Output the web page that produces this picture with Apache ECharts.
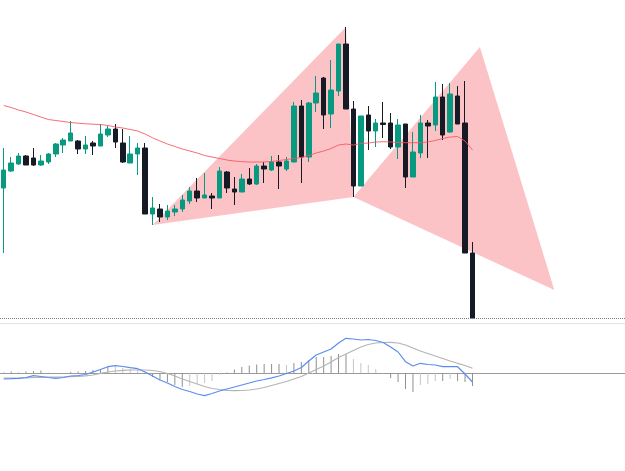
<!DOCTYPE html>
<html>
<head>
<meta charset="utf-8">
<script src="https://cdn.jsdelivr.net/npm/echarts@6/dist/echarts.min.js"></script>
<style>
  html, body { margin: 0; padding: 0; background: #fff; }
  #chart { width: 625px; height: 471px; }
</style>
</head>
<body>
<div id="chart"></div>
<script>
// candles: [open, close, low, high]
const candles = [
  [135, 153, 70, 175], [152, 160, 151, 166], [159, 167, 158, 170], [167, 158, 158, 168],
  [165, 158, 157, 175], [158, 162, 157, 168], [161, 169, 159, 170], [169, 179, 166, 180],
  [178, 183, 170, 185], [182, 190, 182, 202], [182, 174, 169, 183], [174, 178, 169, 187],
  [180, 177, 168, 182], [177, 189, 177, 199], [188, 194, 186, 197], [194, 181, 175, 199],
  [180, 161, 160, 194], [160, 169, 160, 187], [169, 175, 148, 180], [175, 109, 109, 180],
  [109, 115, 98, 126], [114, 106, 101, 119], [106, 112, 103, 118], [111, 114, 107, 118],
  [114, 123, 111, 128], [122, 132, 119, 136], [132, 125, 121, 145], [125, 128, 125, 150],
  [127, 125, 114, 130], [125, 152, 125, 156], [151, 135, 130, 152], [134, 131, 118, 146],
  [131, 144, 131, 149], [144, 139, 138, 155], [139, 157, 138, 159], [157, 154, 140, 161],
  [153, 161, 152, 167], [161, 157, 134, 168], [154, 162, 152, 166], [161, 217, 161, 221],
  [217, 166, 140, 223], [166, 220, 161, 221], [220, 230, 211, 247], [245, 208, 194, 246],
  [209, 233, 195, 263], [232, 279, 227, 279], [279, 214, 214, 296], [214, 137, 126, 222],
  [137, 207, 137, 207], [208, 192, 173, 217], [192, 200, 176, 204], [200, 198.5, 185, 221],
  [200, 176, 174, 210], [176, 198, 164, 204], [199, 146, 135, 199], [146, 171, 146, 191],
  [170, 200, 165, 208], [200, 197, 165, 203], [198, 226, 192, 241], [226, 188, 183, 239],
  [191, 229, 190, 240], [227, 199, 199, 237], [200, 70, 70, 242], [70, 5, 5, 81]
];

const ma = [
  217.5, 215.5, 213, 211, 208.5, 206, 203.5, 202.5, 201.5, 200.5,
  199.8, 199.2, 198.8, 198.5, 197.5, 196, 195, 193.5, 192, 189,
  185.2, 182, 179, 176.5, 174, 172, 170, 167.5, 166, 164.5,
  163, 162, 161.3, 161, 161, 161, 161.5, 162.5, 163.5, 164.5,
  165.5, 167.5, 170, 172, 174.5, 178, 179, 178, 179.5, 180,
  181, 181.3, 181, 180.5, 180.3, 180.3, 180.3, 181, 182.5, 184.5,
  186, 186.5, 182, 173
];

const macd = [
  -6, -5.7, -5.3, -4.5, -2.7, -3.5, -4.5, -5.3, -4.5, -3,
  -2.5, -1.5, 1, 3.5, 6.3, 7.3, 6.5, 5.3, 4.3, 1,
  -3, -7, -10, -13.5, -16.5, -18.5, -21, -22.7, -20.5, -18,
  -16, -14, -12, -10, -8, -6.5, -4.8, -3, -0.5, 2,
  5.5, 12, 18, 21, 24, 30, 34.7, 34, 33, 33.5,
  32.5, 30.5, 26, 21, 11.3, 7, 9.7, 8.5, 8, 6.3,
  6.3, 6.3, -1, -9
];

const signal = [
  -5, -5, -5, -4.8, -4.5, -4.3, -4.2, -4.1, -4, -3.7,
  -3.3, -2.8, -2, -0.3, 1, 2, 2.7, 3, 3, 3,
  2.5, 1.5, -0.5, -3, -6, -8.5, -11, -13.5, -15.5, -16.5,
  -17.3, -17.7, -17.5, -17, -16, -14.5, -12.5, -10.5, -8.5, -6,
  -3.5, 0, 3.5, 7, 11, 15.5, 19, 22.5, 26, 28.5,
  30, 30.5, 30.7, 30, 28, 25, 22, 19.5, 17, 14.5,
  12, 9.7, 7.5, 4.7
];

const hist = [
  0.5, 1.5, 1, 1.5, 2, 2.5, 0.5, 0, 0, 1,
  1.5, 2, 3, 4, 6.5, 6, 5, 4, 3, 1,
  -4, -7, -9, -12, -14, -13, -11, -10, -8, -2,
  1, 3.5, 6, 7.5, 8.5, 9, 9, 9, 8, 10,
  11, 13, 16, 16, 17, 19, 19, 14, 10, 8,
  4, -0.5, -5, -9, -16, -19, -12, -11, -8, -8,
  -6, -8, -9, -13
];

// harmonic pattern points X, A, B, C, D (bar index, price)
const patternIdx = [20, 46, 47, 64, 74];
const patternVal = [98, 296, 126, 276, 33];

const lastClose = 5;
const barCount = 84;

const categories = [];
for (let i = 0; i < barCount; i++) categories.push('bar ' + (i + 1));

const triangles = [
  [patternIdx[0], patternVal[0], patternIdx[1], patternVal[1], patternIdx[2], patternVal[2]],
  [patternIdx[2], patternVal[2], patternIdx[3], patternVal[3], patternIdx[4], patternVal[4]]
];

const chart = echarts.init(document.getElementById('chart'), null, { renderer: 'canvas' });

const option = {
  animation: false,
  backgroundColor: '#ffffff',
  grid: [
    { left: -1.2, right: 0, top: 0, height: 323 },
    { left: -1.2, right: 0, top: 323, height: 100 }
  ],
  xAxis: [
    {
      type: 'category', gridIndex: 0, data: categories, boundaryGap: true,
      axisLine: { show: true, lineStyle: { color: '#e0e3eb', width: 1 } },
      axisTick: { show: false }, axisLabel: { show: false }, splitLine: { show: false }
    },
    {
      type: 'category', gridIndex: 1, data: categories, boundaryGap: true,
      axisLine: { show: true, onZero: true, lineStyle: { color: '#9a9a9a', width: 1 } },
      axisTick: { show: false }, axisLabel: { show: false }, splitLine: { show: false }
    }
  ],
  yAxis: [
    { type: 'value', gridIndex: 0, min: 0, max: 323, show: false },
    { type: 'value', gridIndex: 1, min: -50, max: 50, show: false }
  ],
  series: [
    {
      type: 'custom',
      xAxisIndex: 0, yAxisIndex: 0,
      z: 1,
      silent: true,
      encode: { x: [0, 2, 4], y: [1, 3, 5] },
      data: triangles,
      renderItem: function (params, api) {
        const pts = [0, 2, 4].map(k => api.coord([api.value(k), api.value(k + 1)]));
        return {
          type: 'polygon',
          shape: { points: pts },
          style: { fill: 'rgba(247,82,95,0.35)' }
        };
      }
    },
    {
      type: 'candlestick',
      xAxisIndex: 0, yAxisIndex: 0,
      z: 3,
      barWidth: 5,
      data: candles,
      itemStyle: {
        color: '#089981', color0: '#161a25',
        borderColor: '#089981', borderColor0: '#161a25',
        borderWidth: 1
      },
      markLine: {
        silent: true,
        symbol: 'none',
        label: { show: false },
        lineStyle: { type: 'dotted', color: '#7a7a7a', width: 1 },
        data: [{ yAxis: lastClose }]
      }
    },
    {
      type: 'line',
      xAxisIndex: 0, yAxisIndex: 0,
      z: 4,
      data: ma,
      symbol: 'none',
      lineStyle: { color: '#f7525f', width: 1, opacity: 0.85 }
    },
    {
      type: 'bar',
      xAxisIndex: 1, yAxisIndex: 1,
      barWidth: 1,
      data: hist,
      itemStyle: {
        color: function (p) {
          const v = hist[p.dataIndex];
          const prev = p.dataIndex > 0 ? hist[p.dataIndex - 1] : 0;
          return Math.abs(v) >= Math.abs(prev) ? '#8f8f8f' : '#c6c6c6';
        }
      }
    },
    {
      type: 'line',
      xAxisIndex: 1, yAxisIndex: 1,
      data: signal,
      symbol: 'none',
      lineStyle: { color: '#b4b4b4', width: 1.2 }
    },
    {
      type: 'line',
      xAxisIndex: 1, yAxisIndex: 1,
      data: macd,
      symbol: 'none',
      lineStyle: { color: '#5b8cf0', width: 1.2 }
    }
  ]
};

chart.setOption(option);
</script>
</body>
</html>
